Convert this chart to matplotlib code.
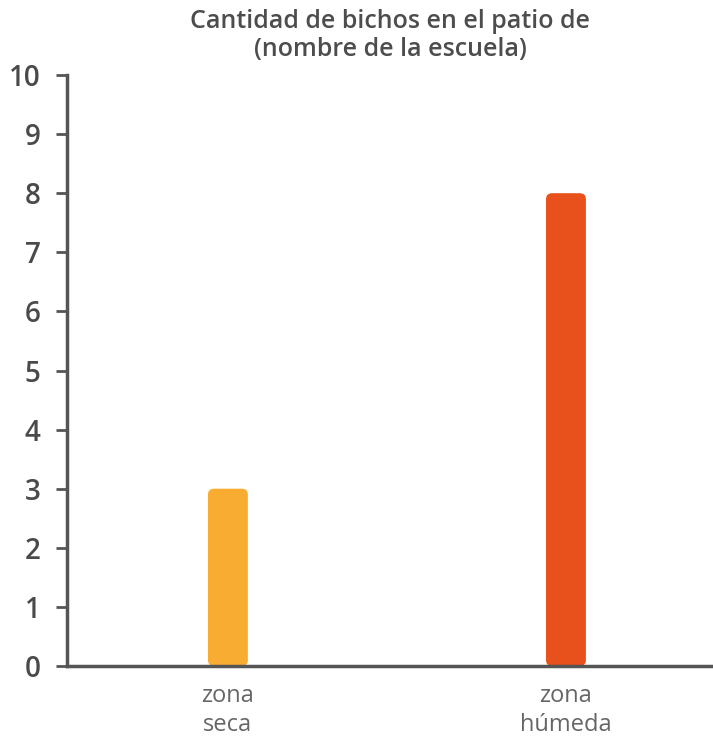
import matplotlib
matplotlib.use("Agg")
import matplotlib.pyplot as plt
from matplotlib.patches import FancyBboxPatch

categories = ["zona\nseca", "zona\nhúmeda"]
values = [3, 8]
colors = ["#F8AC32", "#E8501C"]
yticks = [0, 1, 2, 3, 4, 5, 6, 7, 8, 9, 10]
title = "Cantidad de bichos en el patio de\n(nombre de la escuela)"

plt.rcParams['font.family'] = ['Open Sans', 'DejaVu Sans']

fig = plt.figure(figsize=(7.13, 7.39), dpi=100)
ax = fig.add_axes([67/713, 73/739, 1 - 67/713, (666-75)/739])

x = list(range(len(categories)))
bar_w = 0.118
bars = ax.bar(x, values, width=bar_w, color=colors)
ax.set_xlim(-0.476, 1.435)
ax.set_ylim(0, 10)

# replace bars with rounded versions
r = 0.018
aspect = 5.6
for b, c in zip(bars, colors):
    b.set_visible(False)
    p = FancyBboxPatch((b.get_x(), b.get_y()), b.get_width(), b.get_height(),
                       boxstyle=f"round,pad=0,rounding_size={r}",
                       mutation_aspect=aspect, facecolor=c, edgecolor="none",
                       zorder=2)
    ax.add_patch(p)

ax.set_yticks(yticks)
ax.set_yticklabels([str(t) for t in yticks], fontsize=20, fontweight='semibold', color="#4a4a4a")
ax.set_xticks(x)
ax.set_xticklabels(categories, fontsize=17, color="#666666", linespacing=1.3)
ax.tick_params(axis='x', length=0, pad=13)
ax.tick_params(axis='y', length=8, width=2, color="#555555", pad=11)

for s in ["top", "right"]:
    ax.spines[s].set_visible(False)
for s in ["left", "bottom"]:
    ax.spines[s].set_color("#555555")
    ax.spines[s].set_linewidth(2.5)
    ax.spines[s].set_zorder(3)

ax.set_title(title, fontsize=18, fontweight='semibold', color="#4d4d4d", pad=14, linespacing=1.15)

fig.savefig("out.png", dpi=100)
